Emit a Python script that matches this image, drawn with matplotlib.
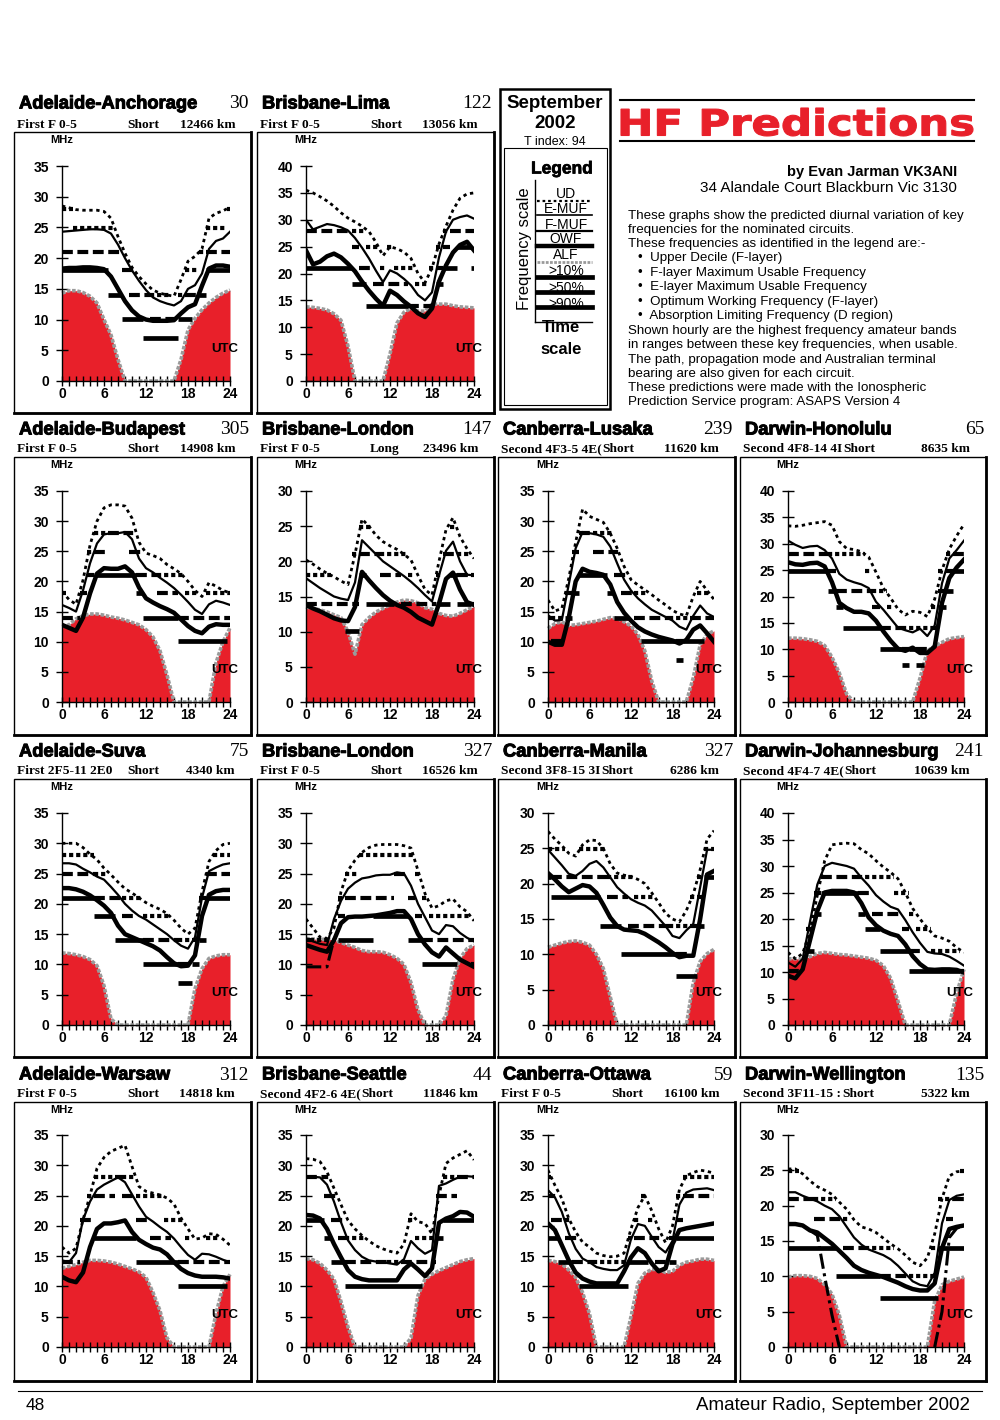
import numpy as np
import matplotlib
matplotlib.use("Agg")
import matplotlib.pyplot as plt
from matplotlib.patches import Rectangle, PathPatch
from matplotlib.textpath import TextPath
from matplotlib.font_manager import FontProperties
from matplotlib.transforms import Affine2D
import matplotlib.patheffects as pe

nan = float("nan")

# circuits in page order (row by row, left to right)
circuits = ["Adelaide-Anchorage", "Brisbane-Lima",
            "Adelaide-Budapest", "Brisbane-London", "Canberra-Lusaka", "Darwin-Honolulu",
            "Adelaide-Suva", "Brisbane-London", "Canberra-Manila", "Darwin-Johannesburg",
            "Adelaide-Warsaw", "Brisbane-Seattle", "Canberra-Ottawa", "Darwin-Wellington"]
bearings = [30, 122, 305, 147, 239, 65, 75, 327, 327, 241, 312, 44, 59, 135]
modes = ["First F 0-5", "First F 0-5", "First F 0-5", "First F 0-5", "Second 4F3-5 4E(",
         "Second 4F8-14 4I", "First 2F5-11 2E0", "First F 0-5", "Second 3F8-15 3I",
         "Second 4F4-7 4E(", "First F 0-5", "Second 4F2-6 4E(", "First F 0-5", "Second 3F11-15 :"]
paths = ["Short", "Short", "Short", "Long", "Short", "Short", "Short",
         "Short", "Short", "Short", "Short", "Short", "Short", "Short"]
distances_km = [12466, 13056, 14908, 23496, 11620, 8635, 4340,
                16526, 6286, 10639, 14818, 11846, 16100, 5322]
ymax_mhz = [35, 40, 35, 30, 35, 40, 35, 35, 30, 40, 35, 35, 35, 30]

hours = list(range(25))
ham_bands = [3.5, 7.0, 10.1, 14.0, 18.068, 21.0, 24.89, 28.0]

# upper decile (F layer)
ud_mhz = [
    [28.5,28.2,27.9,27.8,27.8,27.8,27.6,26.5,23.5,20.8,18.5,17,15.8,14.8,14.3,14,13.8,16.5,19.5,20.3,21.5,26.5,27.3,27.7,28.3],
    [35.5,35,34.3,33.5,32.5,31.3,30.3,29.6,28.8,27.8,25.8,23.3,25,24.6,24,22.8,20,18.3,21,25.5,28.8,31.8,34,34.8,35],
    [18.3,17,16.2,20.2,26,30,32.2,32.7,32.7,32.5,30.5,26.5,24.7,24.3,23.8,22.8,22.1,21.3,20,18.5,17.5,19.8,19.2,18.5,18.1],
    [20.2,19.6,18.9,18.3,17.8,17.2,16.7,21,26,25,23.7,22.8,22.2,21.7,21,20.2,18,16,15.2,20,24.5,26.2,23.5,21.8,20.4],
    [16.9,15.1,15.5,20.5,26.5,32,30.8,30.3,29.8,28,25.5,22.5,20.3,19.4,18.6,17.8,16.9,16.1,15.2,14.6,14.3,17.5,20,18.5,17],
    [33.4,33.3,33.5,33.8,34,34.2,33.5,30.4,29.1,28.9,28.5,27.5,24.6,21.6,19.7,17.6,16.5,17.2,17,16.2,19.5,25,29,31.5,33.7],
    [30,30,30,29.3,28.2,27.3,25.9,24.8,23.6,22.5,21.8,21,20.2,19.6,19.1,18.4,17.3,16,15,16,22,27,28.8,29.8,30],
    [17.5,16,14.5,14.3,16,22,25.5,27.2,28.5,29.3,29.7,29.8,29.8,29.8,29.6,29.2,25.5,21.7,19.3,19.7,20.5,20.8,19.5,18.7,17.2],
    [27.4,26.3,25.4,24.3,23.9,25.5,26.2,26.1,25,22.8,21.5,21.2,21,20.6,20,18.7,17.3,15.8,15,14.6,16.2,18.5,22,26.3,27.5],
    [13.7,12.5,13.5,17.7,24.5,31,34,34.2,34.3,34.2,33.1,32.3,31,29.8,28.8,27.6,25,22,20,18.3,16.8,16.4,15.8,14.6,13.7],
    [16.5,15.5,16.3,21,25,29.5,31.3,32.3,32.8,33.3,29.8,26.5,25.7,25.4,25.1,24.6,23.6,21.3,19.5,17.8,18,18.7,18.6,17.8,16.8],
    [31.1,31,30.6,28.9,26.2,23.5,20.9,19.5,18.4,17.5,16.7,16.2,15.8,15.5,17,22,20.7,20.4,18.7,25,30.3,31.2,31.8,32.4,30.9],
    [29.2,26.7,24.5,21.2,19,17.3,16.5,15.5,15.1,14.9,15,15.5,19.5,23,25,22.5,19.5,17.2,20,26,28.3,28.8,29.2,29,28.7],
    [25.2,25.2,24.5,23.5,22.7,22.2,21.6,20.5,19.5,18,17,16.7,16.2,15.4,14.6,13.9,13,12,11.5,12.6,16,21,24.2,24.8,24.9],
]

# F-layer maximum usable frequency
fmuf_mhz = [
    [24.3,24.4,24.5,24.6,24.7,24.7,24.6,24,22.2,20,18,16.3,14.8,13.6,13,12.6,12.3,13,15,15.6,17.5,21.5,22.8,23.2,24.3],
    [30,28.2,28.7,29.2,29,28.6,28,26.6,24.8,22.8,20.5,18.4,20.6,20,19,17.8,16,15,16.5,23,27.8,30,30.5,30.8,30.2],
    [16.1,15.6,15,18.5,23,26.3,27.8,28,28,28.2,27,23.8,22.2,21.5,20.6,19.8,18.9,17.8,16.6,15.3,14.6,16.2,16.8,16.5,16.1],
    [17.6,16.9,16.2,15.6,15,14.7,14.5,17,23,22,21,20,19.3,18.6,17.9,17.1,16.2,15.2,14.3,18,21.5,22.8,20,18.1,18],
    [14.4,13.5,13.6,19.5,25.5,28.2,28,27.8,27.4,25.8,23,20.3,18.5,17.2,16.2,15.3,14.7,14.1,13.5,12.5,12,14.3,16,14.7,14.1],
    [30.6,29.8,29.2,29.5,29.6,28.8,27.2,24.3,23.2,22.7,22.3,21.6,19,17.5,15.8,14.1,13.6,13.2,13.9,12.5,14.5,22.5,27.2,28.8,30.6],
    [26.7,26.7,26.5,25.8,25.2,24.5,24,22.8,21.5,20,18.9,18,17.4,16.6,15.8,15,14,13.1,12.6,14.5,21,25.4,26,26.5,26.7],
    [14.3,13.8,13.4,13.2,17.5,20.5,22.5,23.5,24.2,24.4,24.7,24.8,24.8,25.2,25,23,20,17.8,15.6,15,16.5,16.3,15.2,14.4,13.8],
    [24.8,23.7,22.6,21.4,21.1,21.8,22.8,23.2,22.3,20.9,19.5,18.6,17.8,17.3,16.9,16.2,15.1,14,12.6,12.3,13.4,14.3,19.5,24.8,24.8],
    [11.8,11,12.5,19.5,26.5,30,30.6,30.3,30,29.5,27.8,26.3,24.5,23.3,22.3,21.8,19.8,17.5,15.5,13.8,13.5,13.4,12.9,12.1,11.2],
    [14.3,14,15.5,21,24,26,26.8,27.4,28,27.2,25.2,23.2,21.5,20.7,19.8,19,17.9,16.5,15.2,14.4,15.4,15.3,14.9,14.4,14],
    [28.1,28.1,28,26.8,24,20.6,17.6,16,14.9,14.3,14.1,14,13.8,13.6,14.5,17.5,16.3,15.4,16,26.6,27,27.6,28.1,28.2,28.1],
    [25.9,24.7,22.3,18.8,16.2,14.6,14,13.2,12.9,12.7,12.7,13.5,17.8,20.3,20,18.2,16.5,15.6,17.5,23.5,25.5,26,26.1,26.2,25.9],
    [21.9,21.9,21.4,21,20.6,20,19.5,18.5,17,15.5,14.5,13.8,13.4,13,12.4,11.5,10.4,9.3,8.8,8.6,10.5,17.5,20.8,21.4,21.6],
]

# optimum working frequency
owf_mhz = [
    [18.3,18.4,18.4,18.5,18.5,18.4,18.2,17,15,13,11.5,10.5,10,9.8,9.8,9.8,9.9,11,12,12.5,15.5,18.3,18.8,18.8,18.6],
    [24.3,21.7,22.2,23.2,23.7,23,21.8,20.4,18.5,16.8,15.3,14,16.8,16,14.8,13.8,12.6,11.9,13.5,18.5,21.5,23.9,25.3,25.9,24.3],
    [12.8,12.3,11.8,14,18,21.3,22.2,22.1,22.1,22.5,21.5,19,17.2,16.5,15.9,15.4,14.8,13.7,12.6,11.8,11.4,12.5,12.9,12.8,12.8],
    [13.8,13.3,12.9,12.4,11.9,11.6,11.5,13.5,18.5,17.3,16.2,15.2,14.4,13.8,13.4,12.8,12,11.5,11,14,17.5,18.4,16,14.2,13.8],
    [10,9.5,9.5,14,20,22.1,21.6,21.4,21.1,19.5,16.6,14.8,13.5,12.4,11.7,11.2,10.8,10.5,10.2,9.7,10.3,12,12.7,11.4,10],
    [26.5,26.1,26,26.3,26.4,25.7,22.7,18.8,17.8,17.1,17.1,16.8,15.4,13.4,11.6,10.1,9.7,10.3,9.3,9.3,10.5,18.8,23.5,25.5,27],
    [22.6,22.6,22.4,22,21.4,20.6,19.7,18.5,16.4,15,14.5,14,13.5,13,12.3,11.2,10.2,9.7,9.8,11.5,18,21.5,22.1,22.3,22.3],
    [13.2,12.8,12.4,12.1,14,16.8,17.8,17.9,17.9,18,18.1,18.3,18.5,18.8,18.8,17.5,15,13.3,12,11.3,12.8,11.8,10.8,10.2,9.6],
    [21.5,20.6,19.6,18.8,19.3,19.8,19.6,18.7,17,15.2,14,13.5,13.4,13.3,12.9,12.3,11.7,11,10.2,9.6,9.8,9.8,15,21.3,21.8],
    [9.3,8.8,10.5,16,21.5,25,25.3,25.3,25.3,25,23,20.3,18.8,17.8,17.2,16.8,15.2,13,11.5,10.5,10.4,10.5,10.5,10.4,9.9],
    [11.6,11,10.7,12.3,16.5,19.5,20.4,20.4,20.6,20.9,19,17.7,17,16.4,16.1,15.3,14,12.9,12.2,11.8,11.6,11.6,11.6,11.5,11.3],
    [21.8,21.7,21.2,19.5,17,14.8,12.7,11.6,11.2,11,11,11,11,11,12.8,13.8,12.8,11.7,13,20.5,21.2,21.6,22.3,22.2,21.5],
    [20.4,19.3,16.8,14.3,12.3,11.3,10.8,10.5,10.5,10.5,10.5,12.5,14.8,16.3,15.5,13.8,12.5,13,17,19.3,19.6,19.8,20,20.2,20.4],
    [17.4,17.4,17.2,16.5,16.2,15.4,14.6,13.6,12.6,11.5,10.9,10.5,10.2,9.9,9.5,9.1,8.6,8.2,8,8,9,14,16.7,17,17.2],
]

# absorption limiting frequency (D region)
alf_mhz = [
    [14.3,14.7,14.7,14.4,13.8,12.7,10,7.5,3.5,0,0,0,0,0,0,0,0,3.5,8.3,10.2,11.6,12.7,13.6,14.3,14.8],
    [13.8,13.7,13.5,13.2,12.5,11.3,6.5,0,0,0,0,0,5,10.8,12.8,13.5,13,13,14.3,14.3,14.3,14,13.8,13.7,13.6],
    [12.5,12.8,13.8,14.3,14.6,14.6,14.4,14.1,13.9,13.6,13.2,12.8,12,10.8,8.5,4.5,0,0,0,0,0,0,6.5,10,12.3],
    [13.5,13.3,13.1,12.8,12.4,12,10,6.8,11,12,12.8,13.3,13.8,14.2,14.5,14.4,14.1,13.4,13.2,12.6,12.3,12.2,12.6,13.1,13.6],
    [12.2,13,13.3,12.7,12.8,13,13.2,13.4,13.7,14,13.9,13.3,12.6,11.2,8.5,3.5,0,0,0,0,0,4,9.5,11.2,11.8],
    [12.1,12.1,12,11.8,11.5,10.7,8.5,5.5,1.5,0,0,0,0,0,0,0,0,0,4.5,9.7,10.6,11.3,12,12.2,12.4],
    [11.9,11.8,11.6,11.3,10.8,9.8,6.5,1,0,0,0,0,0,0,0,0,0,0,0,6,9.3,11,11.4,11.6,11.6],
    [14.3,14.2,14.1,14.2,14,13.6,13.2,12.8,12.3,12.1,12.1,12,11.6,11,10,7,2.5,0,0,0,1.5,7.5,11,12.6,13.2],
    [11,11.3,11.6,11.8,11.9,11.7,11.3,10,8,4,0,0,0,0,0,0,0,0,0,0,0,6,9,10.1,10.7],
    [12.5,12.5,12.4,12.9,13.5,13.7,13.5,13.3,13.2,13,12.8,12.6,12.2,11.2,8.8,4.5,0,0,0,0,0,0,0,6,10.5],
    [13,13.3,13.6,14,14.3,14.3,14.2,14,13.7,13.3,12.9,12.4,11.5,9,6,1.5,0,0,0,0,0,0,5.5,10,12],
    [14.6,14.4,13.8,12.7,11.2,7.5,3.3,0,0,0,0,0,0,0,0,1.5,8.5,11.2,12,12.6,13.1,13.6,14.1,14.4,14.6],
    [14.3,14.1,13.7,12.7,11.5,9,5.5,0,0,0,0,0,5,10.5,12.2,12.8,12.8,12.3,12.5,13.5,14,14.2,14.5,14.5,14.3],
    [9.9,10.1,10.1,10,9.7,8.8,7.5,4.5,0,0,0,0,0,0,0,0,0,0,0,0,6.5,8.8,9.3,9.6,9.9],
]

# E-layer MUF, only where it shows
emuf_mhz = [None] * 14
emuf_mhz[7] = [9.6,9.6,9.6,9.6,14.2] + [nan] * 20
emuf_mhz[13] = [nan,nan,nan,16.5,15.8,10,4.5,0] + [nan] * 12 + [0,5,15.5,16.8,17.2]

legend_labels = ["UD", "E-MUF", "F-MUF", "OWF", "ALF", ">10%", ">50%", ">90%"]

notes = ["These graphs show the predicted diurnal variation of key",
         "frequencies for the nominated circuits.",
         "These frequencies as identified in the legend are:-",
         "\u2022  Upper Decile (F-layer)",
         "\u2022  F-layer Maximum Usable Frequency",
         "\u2022  E-layer Maximum Usable Frequency",
         "\u2022  Optimum Working Frequency (F-layer)",
         "\u2022  Absorption Limiting Frequency (D region)",
         "Shown hourly are the highest frequency amateur bands",
         "in ranges between these key frequencies, when usable.",
         "The path, propagation mode and Australian terminal",
         "bearing are also given for each circuit.",
         "These predictions were made with the Ionospheric",
         "Prediction Service program: ASAPS Version 4"]

# ---------------- layout (page pixels)
W, H = 1000, 1420
RED = "#e8202a"
GREY = "#9a9a9a"
plt.rcParams["font.family"] = ["Liberation Sans", "DejaVu Sans"]
heavy = [pe.withStroke(linewidth=0.7, foreground="black")]

col_box = [(14, 251), (257, 494), (498, 735), (740, 986)]
col_axes = [(62, 230), (306, 474), (548, 714), (788, 964)]
row_box = [(132, 413), (457, 735), (779, 1057), (1102, 1381)]
row_axes = [(166, 381), (491, 702), (813, 1025), (1135, 1347)]
row_title = [104, 430, 752, 1075]
row_sub = [125, 449, 771, 1094]
slots = [(0, 0), (1, 0), (0, 1), (1, 1), (2, 1), (3, 1), (0, 2), (1, 2),
         (2, 2), (3, 2), (0, 3), (1, 3), (2, 3), (3, 3)]

fig = plt.figure(figsize=(W / 100, H / 100), dpi=100)
page = fig.add_axes([0, 0, 1, 1])
page.set_xlim(0, W)
page.set_ylim(H, 0)
page.axis("off")
renderer = fig.canvas.get_renderer()


def band_runs(lo, hi):
    # highest amateur band inside (lo, hi] for each hour, merged into runs
    picks = []
    for a, b in zip(lo, hi):
        inside = [f for f in ham_bands if a < f <= b]
        picks.append(max(inside) if inside else None)
    runs = []
    start = 0
    for k in range(1, len(picks) + 1):
        if k == len(picks) or picks[k] != picks[start]:
            if picks[start] is not None:
                runs.append((picks[start], max(start - 0.5, 0), min(k - 0.5, 24)))
            start = k
    return runs


def draw_panel(i):
    c, r = slots[i]
    bl, br = col_box[c]
    bt, bb = row_box[r]
    page.add_patch(Rectangle((bl, bt), br - bl, bb - bt, fill=False, lw=1.0, ec="black"))
    page.plot([br, br], [bt, bb], color="black", lw=2.0)
    page.plot([bl, br], [bb, bb], color="black", lw=2.0)

    page.text(bl + 5, row_title[r], circuits[i], fontsize=13.2, fontweight="bold",
              ha="left", va="center", path_effects=heavy)
    page.text(br - 2, row_title[r], str(bearings[i]), family="Liberation Serif",
              fontsize=14, ha="right", va="center")
    sub = dict(family="Liberation Serif", fontsize=9.6, fontweight="bold", va="center")
    mt = page.text(bl + 3, row_sub[r], modes[i], ha="left", **sub)
    mode_end = mt.get_window_extent(renderer).x1
    short_x = max(bl + (97 if modes[i].startswith("Second") else 113), mode_end + 1)
    page.text(short_x, row_sub[r], paths[i], ha="left", **sub)
    page.text(br - 16, row_sub[r], f"{distances_km[i]} km", ha="right", **sub)

    x0, x1 = col_axes[c]
    at, ab = row_axes[r]
    page.text(x0, bt + 8, "MHz", fontsize=8, fontweight="bold", ha="center", va="center")

    ax = fig.add_axes([x0 / W, 1 - ab / H, (x1 - x0) / W, (ab - at) / H])
    ax.patch.set_visible(False)
    h = np.array(hours)
    alf = np.array(alf_mhz[i])
    owf = np.array(owf_mhz[i])
    muf = np.array(fmuf_mhz[i])
    ud = np.array(ud_mhz[i])

    ax.fill_between(h, 0, alf, color=RED, lw=0, zorder=1)
    ax.plot(h, alf, color=GREY, lw=2.6, ls=(0, (1, 0.45)), zorder=2, clip_on=False)

    # hourly band markers between key frequencies
    for f, s, e in band_runs(muf, ud):
        ax.plot([s, e], [f, f], color="black", lw=3, ls=(0, (1, 0.7)), zorder=3,
                dash_capstyle="butt")
    for f, s, e in band_runs(owf, muf):
        ax.plot([s, e], [f, f], color="black", lw=3, ls=(0, (2.6, 1.1)), zorder=3,
                dash_capstyle="butt")
    for f, s, e in band_runs(alf, owf):
        ax.plot([s, e], [f, f], color="black", lw=3.4, zorder=3, solid_capstyle="butt")

    if emuf_mhz[i] is not None:
        ax.plot(h, emuf_mhz[i], color="black", lw=2.2, ls=(0, (5, 1.5, 1, 1.5)), zorder=4)
    ax.plot(h, ud, color="black", lw=2, ls=(0, (1.2, 1.3)), zorder=4)
    ax.plot(h, muf, color="black", lw=1.6, zorder=4)
    ax.plot(h, owf, color="black", lw=3.2, zorder=4, solid_joinstyle="round")

    ax.set_xlim(0, 24)
    ax.set_ylim(0, ymax_mhz[i])
    for side in ["top", "right"]:
        ax.spines[side].set_visible(False)
    ax.spines["left"].set_linewidth(1)
    ax.spines["bottom"].set_linewidth(1)
    ax.set_xticks([0, 6, 12, 18, 24])
    ax.set_xticks(hours, minor=True)
    ax.set_yticks(range(0, ymax_mhz[i] + 1, 5))
    ax.tick_params(axis="x", which="both", direction="inout", length=7, width=1, pad=1)
    ax.tick_params(axis="y", direction="inout", length=9, width=1, pad=5)
    for lab in ax.get_xticklabels() + ax.get_yticklabels():
        lab.set_fontsize(10)
        lab.set_fontweight("bold")
    ax.text(1.05, 0.15, "UTC", transform=ax.transAxes, fontsize=9.5, fontweight="bold",
            ha="right", va="center", zorder=5)


for i in range(len(circuits)):
    draw_panel(i)

# ---------------- legend box
page.add_patch(Rectangle((500, 89), 110, 320, fill=False, lw=1.8, ec="black"))
page.add_patch(Rectangle((504, 148), 103, 257, fill=False, lw=0.8, ec="black"))
page.text(555, 103, "September", fontsize=13.5, fontweight="bold", ha="center", va="center")
page.text(555, 123, "2002", fontsize=13.5, fontweight="bold", ha="center", va="center")
page.text(555, 142, "T index: 94", fontsize=9, ha="center", va="center")
page.text(562, 169, "Legend", fontsize=12.5, fontweight="bold", ha="center", va="center",
          path_effects=[pe.withStroke(linewidth=0.5, foreground="black")])
page.text(525, 249, "Frequency scale", rotation=90, fontsize=12, ha="center", va="center")
page.plot([535, 535], [180, 322], color="black", lw=1)
page.plot([535, 592], [322, 322], color="black", lw=1)
label_y = [194, 209, 225, 239, 255, 271, 288, 304]
line_y = [201, 215, 231, 246, 262, 277, 292, 307]
line_styles = [dict(lw=1.6, ls=(0, (1.2, 1.3)), color="black"),
               dict(lw=1.2, color="black"), dict(lw=1.6, color="black"),
               dict(lw=3.2, color="black"), dict(lw=2, ls=(0, (1, 0.5)), color=GREY),
               dict(lw=3.4, color="black"), dict(lw=3.4, color="black"),
               dict(lw=3.4, color="black")]
for lab, ty, ly, st in zip(legend_labels, label_y, line_y, line_styles):
    page.text(566, ty, lab, fontsize=10, ha="center", va="center")
    page.plot([537, 592], [ly, ly], **st)
page.text(561, 327, "Time", fontsize=12, fontweight="bold", ha="center", va="center")
page.text(561, 350, "scale", fontsize=12, fontweight="bold", ha="center", va="center")

# ---------------- heading and notes
page.plot([620, 974], [100, 100], color="black", lw=1.5)
page.plot([620, 974], [141, 141], color="black", lw=1.5)
head = TextPath((0, 0), "HF Predictions", size=1,
                prop=FontProperties(family="DejaVu Sans", weight="bold"))
hb = head.get_extents()
sx = 352 / hb.width
sy = 28 / hb.height
head_path = Affine2D().translate(-hb.x0, -hb.y0).scale(sx, -sy).translate(621, 136).transform_path(head)
page.add_patch(PathPatch(head_path, fc=RED, ec=RED, lw=0.8))

page.text(957, 172, "by Evan Jarman VK3ANI", fontsize=10.5, fontweight="bold",
          ha="right", va="center")
page.text(957, 188, "34 Alandale Court Blackburn Vic 3130", fontsize=11,
          ha="right", va="center")
note_y = [216, 230, 244, 258, 273, 287, 302, 316, 331, 345, 360, 374, 388, 402]
for line, y in zip(notes, note_y):
    x = 638 if line.startswith("\u2022") else 628
    page.text(x, y, line, fontsize=9.6, ha="left", va="center")

# ---------------- footer
page.plot([18, 982], [1391, 1391], color="black", lw=0.8)
page.text(26, 1406, "48", fontsize=12.5, ha="left", va="center")
page.text(970, 1406, "Amateur Radio, September 2002", fontsize=13.5, ha="right", va="center")

fig.savefig("out.png", dpi=100)
